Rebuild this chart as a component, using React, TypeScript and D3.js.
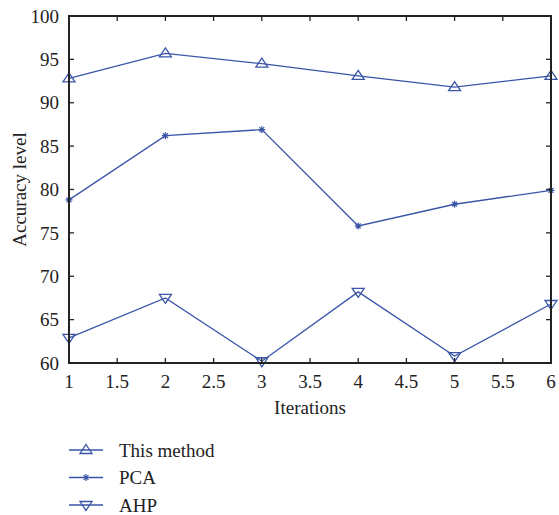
import React, { useEffect, useRef } from "react";
import * as d3 from "d3";

// data
const iterations = [1, 2, 3, 4, 5, 6];
const thisMethod = [92.8, 95.7, 94.5, 93.1, 91.8, 93.1];
const pca = [78.8, 86.2, 86.9, 75.8, 78.3, 79.9];
const ahp = [62.9, 67.5, 60.2, 68.2, 60.8, 66.8];
const xTicks = [1, 1.5, 2, 2.5, 3, 3.5, 4, 4.5, 5, 5.5, 6];
const yTicks = [60, 65, 70, 75, 80, 85, 90, 95, 100];

const seriesNames = ["This method", "PCA", "AHP"];
const seriesValues = [thisMethod, pca, ahp];
const markers = ["up", "star", "down"];

const color = "#3a55a8";

const W = 559;
const H = 515;
const margin = { left: 69, top: 16, right: 8, bottom: 152 };

function drawMarker(g: any, kind: string, x: number, y: number) {
  if (kind === "up") {
    g.append("path")
      .attr("d", `M${x},${y - 5.5}L${x + 6},${y + 3.5}L${x - 6},${y + 3.5}Z`)
      .attr("fill", "none")
      .attr("stroke", color)
      .attr("stroke-width", 1.3);
  } else if (kind === "down") {
    g.append("path")
      .attr("d", `M${x},${y + 5.5}L${x + 6},${y - 3.5}L${x - 6},${y - 3.5}Z`)
      .attr("fill", "none")
      .attr("stroke", color)
      .attr("stroke-width", 1.3);
  } else {
    const r = 3.5;
    g.append("path")
      .attr(
        "d",
        `M${x - r},${y}L${x + r},${y}M${x},${y - r}L${x},${y + r}M${x - r * 0.7},${y - r * 0.7}L${x + r * 0.7},${y + r * 0.7}M${x - r * 0.7},${y + r * 0.7}L${x + r * 0.7},${y - r * 0.7}`
      )
      .attr("stroke", color)
      .attr("stroke-width", 1.2);
  }
}

export default function App() {
  const ref = useRef<SVGSVGElement>(null);

  useEffect(() => {
    const svg = d3.select(ref.current);
    svg.selectAll("*").remove();

    const x = d3.scaleLinear().domain([1, 6]).range([margin.left, W - margin.right]);
    const y = d3.scaleLinear().domain([60, 100]).range([H - margin.bottom, margin.top]);
    const x0 = x.range()[0], x1 = x.range()[1];
    const y0 = y.range()[0], y1 = y.range()[1];

    const g = svg.append("g");

    // series lines
    const line = d3
      .line<number>()
      .x((d, i) => x(iterations[i]))
      .y(d => y(d));

    seriesValues.forEach((vals, si) => {
      g.append("path")
        .datum(vals)
        .attr("d", line)
        .attr("fill", "none")
        .attr("stroke", color)
        .attr("stroke-width", 1.3);
      vals.forEach((v, i) => drawMarker(g, markers[si], x(iterations[i]), y(v)));
    });

    // ticks (inward, mirrored)
    const tl = 5;
    xTicks.forEach(t => {
      g.append("line").attr("x1", x(t)).attr("x2", x(t)).attr("y1", y0).attr("y2", y0 - tl).attr("stroke", "#222").attr("stroke-width", 1.3);
      g.append("line").attr("x1", x(t)).attr("x2", x(t)).attr("y1", y1).attr("y2", y1 + tl).attr("stroke", "#222").attr("stroke-width", 1.3);
      g.append("text")
        .attr("x", x(t))
        .attr("y", y0 + 25)
        .attr("text-anchor", "middle")
        .text(String(t));
    });
    yTicks.forEach(t => {
      g.append("line").attr("x1", x0).attr("x2", x0 + tl).attr("y1", y(t)).attr("y2", y(t)).attr("stroke", "#222").attr("stroke-width", 1.3);
      g.append("line").attr("x1", x1).attr("x2", x1 - tl).attr("y1", y(t)).attr("y2", y(t)).attr("stroke", "#222").attr("stroke-width", 1.3);
      g.append("text")
        .attr("x", x0 - 10)
        .attr("y", y(t))
        .attr("dy", "0.35em")
        .attr("text-anchor", "end")
        .text(String(t));
    });

    // frame
    g.append("rect")
      .attr("x", x0)
      .attr("y", y1)
      .attr("width", x1 - x0)
      .attr("height", y0 - y1)
      .attr("fill", "none")
      .attr("stroke", "#222")
      .attr("stroke-width", 2);

    // axis titles
    g.append("text")
      .attr("x", (x0 + x1) / 2)
      .attr("y", y0 + 51)
      .attr("text-anchor", "middle")
      .text("Iterations");
    g.append("text")
      .attr("transform", `translate(26,${(y0 + y1) / 2}) rotate(-90)`)
      .attr("text-anchor", "middle")
      .text("Accuracy level");

    // legend
    seriesNames.forEach((name, i) => {
      const ly = 450 + i * 27.5;
      g.append("line").attr("x1", 69).attr("x2", 103).attr("y1", ly).attr("y2", ly).attr("stroke", color).attr("stroke-width", 1.3);
      drawMarker(g, markers[i], 86, ly);
      g.append("text")
        .attr("x", 119)
        .attr("y", ly)
        .attr("dy", "0.35em")
        .text(name);
    });
  }, []);

  return (
    <svg
      ref={ref}
      width={W}
      height={H}
      style={{
        position: "absolute",
        left: 0,
        top: 0,
        background: "#fff",
        fontFamily: '"Liberation Serif", serif',
        fontSize: 19,
        fill: "#222",
      }}
    />
  );
}
